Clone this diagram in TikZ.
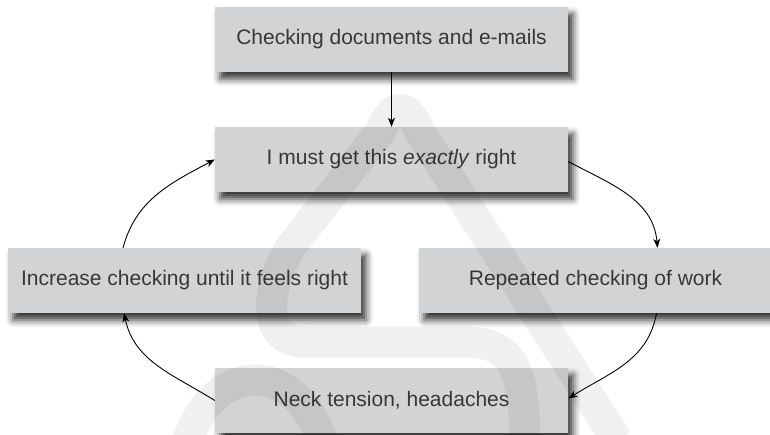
\documentclass[tikz,border=0pt]{standalone}
\usepackage{fontspec}
\setmainfont{Liberation Sans}
\usetikzlibrary{arrows.meta,shadows.blur,calc}

\definecolor{boxgray}{HTML}{D2D3D5}
\definecolor{textgray}{HTML}{383838}

\begin{document}
\begin{tikzpicture}[x=1pt,y=-1pt,
  box/.style={rectangle, fill=boxgray, minimum width=353pt, minimum height=65pt,
    inner sep=0pt, text=textgray, font=\fontsize{21}{24}\selectfont,
    blur shadow={shadow xshift=5pt, shadow yshift=-7pt, shadow blur radius=7pt,
      shadow opacity=80}},
  flow/.style={-{Stealth[length=9pt,width=7pt,inset=2.5pt]}, line width=0.9pt, black},
  ribbon/.style={line width=31pt, black, opacity=0.06, line cap=butt, line join=round}]

\useasboundingbox (0,0) rectangle (770,435);

% the five steps of the cycle
\node[box] (docs)   at (391.5, 39.5)  {Checking documents and e-mails};
\node[box] (exact)  at (391.5, 159.5) {I must get this \textit{exactly} right};
\node[box] (more)   at (184.5, 280.5) {Increase checking until it feels right};
\node[box] (repeat) at (595.5, 280.5) {Repeated checking of work};
\node[box] (neck)   at (391.5, 400.5) {Neck tension, headaches};

% connectors
\draw[flow] (docs.south) -- (exact.north);
\draw[flow] ([yshift=-2pt]exact.east) to[out=-28, in=95] ([xshift=62pt]repeat.north);
\draw[flow] ([xshift=61pt]repeat.south) to[out=-100, in=32] ([yshift=2pt]neck.east);
\draw[flow] (neck.west) to[out=148, in=-78] ([xshift=-60.5pt]more.south);
\draw[flow] ([xshift=-61.5pt]more.north) to[out=75, in=208] (exact.west);

% faint ribbon emblem in the background
\draw[ribbon] (617,440) -- (420,132)
  .. controls (408,102) and (392,102) .. (380,132)
  -- (290,248)
  .. controls (268,285) and (258,342) .. (305,342)
  -- (465,342)
  .. controls (515,342) and (524,372) .. (525,440);
\draw[ribbon] (188,440) .. controls (215,360) and (295,360) .. (322,440);
\end{tikzpicture}
\end{document}
